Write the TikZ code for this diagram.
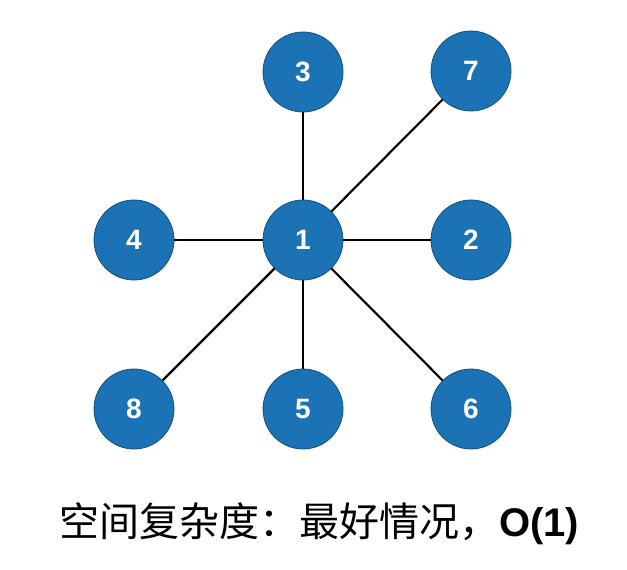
\documentclass[tikz,border=0pt]{standalone}
\usepackage{fontspec}
\setmainfont{Liberation Sans}
\newfontfamily\cjk{Noto Sans CJK SC}

\definecolor{nodeblue}{HTML}{1B72B5}

\begin{document}
\begin{tikzpicture}[
    x=0.75pt, y=-0.75pt,
    vertex/.style={
        circle,
        draw=nodeblue!70!black,
        fill=nodeblue,
        text=white,
        line width=0.6pt,
        minimum size=60pt,
        inner sep=0pt,
        font=\fontsize{21}{25}\selectfont\bfseries
    },
    edge/.style={line width=1.6pt, black}
]

    \useasboundingbox (0,0) rectangle (627,570);

    % Vertices
    \node[vertex] (n1) at (303,240) {1};
    \node[vertex] (n3) at (303,72)  {3};
    \node[vertex] (n7) at (471,71)  {7};
    \node[vertex] (n4) at (134,240) {4};
    \node[vertex] (n2) at (471,240) {2};
    \node[vertex] (n8) at (134,409) {8};
    \node[vertex] (n5) at (303,409) {5};
    \node[vertex] (n6) at (471,409) {6};

    % Edges from the centre
    \foreach \v in {n3,n7,n4,n2,n8,n5,n6}
        \draw[edge] (n1) -- (\v);

    % Caption
    \node[font=\fontsize{30}{36}\selectfont] (caption) at (319,524)
        {{\cjk 空间复杂度：最好情况，}\textbf{O(1)}};

\end{tikzpicture}
\end{document}
